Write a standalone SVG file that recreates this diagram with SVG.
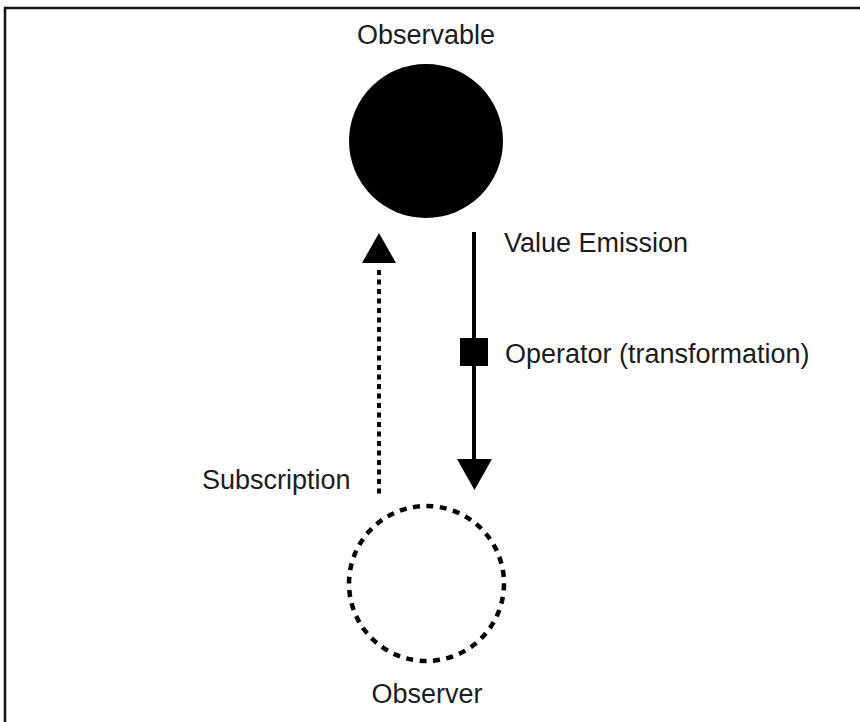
<svg xmlns="http://www.w3.org/2000/svg" width="860" height="722" viewBox="0 0 860 722">
  <style>
    .lbl { font-family: "Liberation Sans", Arial, sans-serif; font-size: 27px; fill: #1c1c1c; }
  </style>
  <rect width="860" height="722" fill="#ffffff"/>
  <path d="M5,722 V8 H860" fill="none" stroke="#111" stroke-width="2.5"/>

  <g id="observable">
    <circle cx="426" cy="141" r="77" fill="#000"/>
    <text class="lbl" x="426" y="44" text-anchor="middle">Observable</text>
  </g>

  <g id="observer">
    <circle cx="426.5" cy="583.5" r="77.5" fill="none" stroke="#000" stroke-width="4.5" stroke-dasharray="7 6.5"/>
    <text class="lbl" x="427" y="703" text-anchor="middle">Observer</text>
  </g>

  <g id="operator">
    <rect x="460" y="338" width="28" height="28" fill="#000"/>
    <text class="lbl" x="505" y="363">Operator (transformation)</text>
  </g>

  <g id="connectors">
    <g id="emission">
      <line x1="474" y1="232" x2="474" y2="462" stroke="#000" stroke-width="4"/>
      <polygon points="457,459 492,459 474.5,490" fill="#000"/>
      <text class="lbl" x="504" y="252">Value Emission</text>
    </g>
    <g id="subscription">
      <line x1="379" y1="270" x2="379" y2="497" stroke="#000" stroke-width="4" stroke-dasharray="5 4.5"/>
      <polygon points="379,233 362,263 396,263" fill="#000"/>
      <text class="lbl" x="202" y="489">Subscription</text>
    </g>
  </g>
</svg>
